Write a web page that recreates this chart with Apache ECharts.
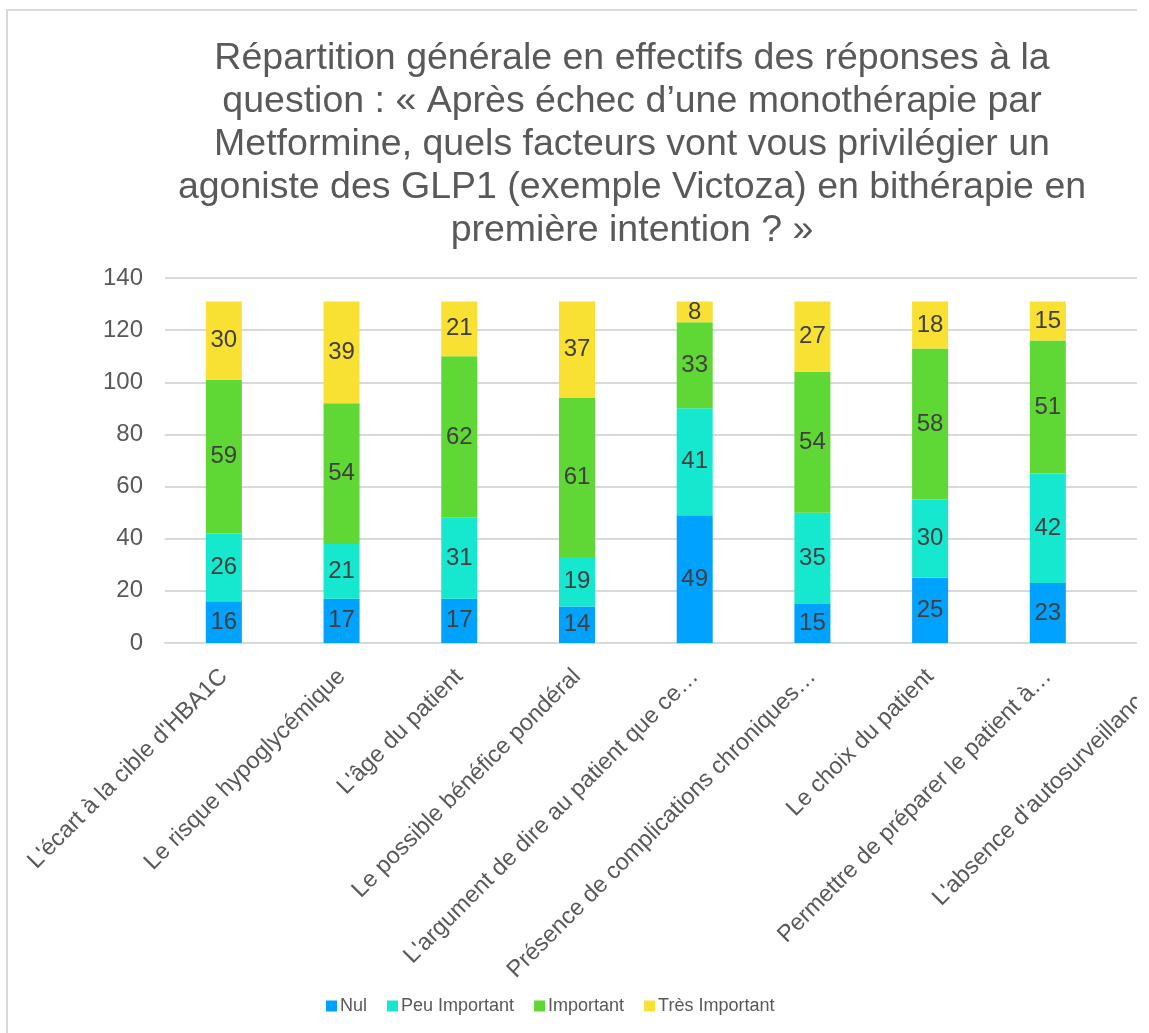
<!DOCTYPE html>
<html>
<head>
<meta charset="utf-8">
<script src="https://cdn.jsdelivr.net/npm/echarts@6/dist/echarts.min.js"></script>
<style>
  html, body { margin: 0; padding: 0; background: #ffffff; overflow: hidden; }
  #frame { position: absolute; left: 0; top: 0; width: 1137px; height: 1033px; overflow: hidden; }
  #edge { position: absolute; left: 6px; top: 9px; width: 2000px; height: 2000px;
          border-left: 2px solid #d9d9d9; border-top: 2px solid #d9d9d9; }
  #chart { position: absolute; left: 0; top: 0; width: 1240px; height: 1033px; }
</style>
</head>
<body>
<div id="frame">
  <div id="edge"></div>
  <div id="chart"></div>
</div>
<script>
// Facteurs proposés (libellés tels qu'affichés, tronqués)
const categories = [
  "L'écart à la cible d'HBA1C",
  "Le risque hypoglycémique",
  "L'âge du patient",
  "Le possible bénéfice pondéral",
  "L'argument de dire au patient que ce…",
  "Présence de complications chroniques…",
  "Le choix du patient",
  "Permettre de préparer le patient à…",
  "L'absence d'autosurveillance…"
];

// Effectifs par niveau d'importance (dernier facteur : non renseigné ici)
const nul        = [16, 17, 17, 14, 49, 15, 25, 23, null];
const peuImport  = [26, 21, 31, 19, 41, 35, 30, 42, null];
const important  = [59, 54, 62, 61, 33, 54, 58, 51, null];
const tresImport = [30, 39, 21, 37,  8, 27, 18, 15, null];

const seriesNames = ["Nul", "Peu Important", "Important", "Très Important"];
const seriesColors = ["#00a2ff", "#16e8d0", "#5fd835", "#f8e133"];

const yMin = 0, yMax = 140, yStep = 20;

const titleText =
  "Répartition générale en effectifs des réponses à la\n" +
  "question : « Après échec d’une monothérapie par\n" +
  "Metformine, quels facteurs vont vous privilégier un\n" +
  "agoniste des GLP1 (exemple Victoza) en bithérapie en\n" +
  "première intention ? »";

const FONT = "'Liberation Sans', Arial, sans-serif";

const chart = echarts.init(document.getElementById('chart'), null, { renderer: 'canvas' });

const dataSets = [nul, peuImport, important, tresImport];

chart.setOption({
  animation: false,
  textStyle: { fontFamily: FONT },
  title: {
    text: titleText,
    left: 627,
    top: 32,
    textAlign: 'center',
    textStyle: {
      fontFamily: FONT,
      fontSize: 37.5,
      fontWeight: 'normal',
      color: '#595959',
      lineHeight: 43
    }
  },
  legend: {
    data: seriesNames,
    left: 326,
    top: 997,
    padding: 0,
    itemWidth: 11,
    itemHeight: 11,
    itemGap: 20,
    icon: 'rect',
    textStyle: { fontFamily: FONT, fontSize: 18, color: '#595959', padding: [0, 0, 0, -2] }
  },
  grid: {
    left: 165,
    top: 278,
    width: 117.71 * categories.length,
    height: 365,
    containLabel: false
  },
  xAxis: {
    type: 'category',
    data: categories,
    axisLine: { lineStyle: { color: '#d9d9d9', width: 2 } },
    axisTick: { show: false },
    axisLabel: {
      interval: 0,
      rotate: 45,
      margin: 30,
      fontFamily: FONT,
      fontSize: 23.5,
      color: '#595959'
    }
  },
  yAxis: {
    type: 'value',
    min: yMin,
    max: yMax,
    interval: yStep,
    axisLine: { show: false },
    axisTick: { show: false },
    axisLabel: { margin: 22, fontFamily: FONT, fontSize: 24, color: '#595959' },
    splitLine: { lineStyle: { color: '#d9d9d9', width: 2 } }
  },
  series: seriesNames.map((name, i) => ({
    name: name,
    type: 'bar',
    stack: 'total',
    barWidth: 36,
    data: dataSets[i],
    itemStyle: { color: seriesColors[i] },
    label: {
      show: true,
      position: 'inside',
      fontFamily: FONT,
      fontSize: 24,
      color: '#404040'
    }
  }))
});
</script>
</body>
</html>
